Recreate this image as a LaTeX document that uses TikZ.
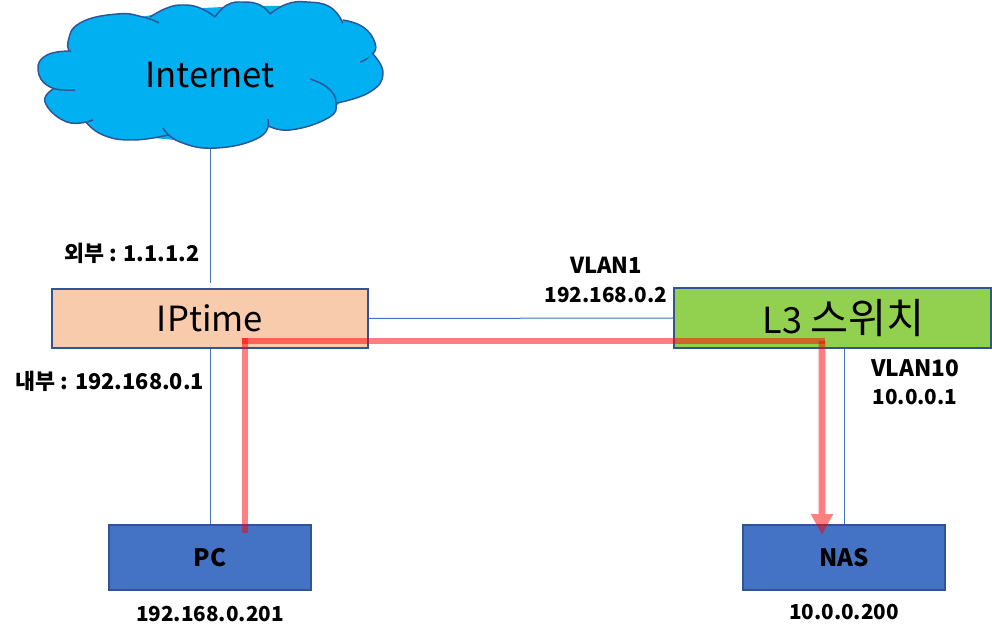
\documentclass[tikz,border=0pt]{standalone}
\usepackage{fontspec}
\setmainfont{Noto Sans CJK KR}
\usetikzlibrary{arrows.meta}
\definecolor{edge}{HTML}{2F5597}
\definecolor{wire}{HTML}{4472C4}
\definecolor{sky}{HTML}{00B0F0}
\definecolor{peach}{HTML}{F8CBAD}
\definecolor{leaf}{HTML}{92D050}
\newcommand{\fs}[1]{\fontsize{#1}{21.4}\selectfont}
\tikzset{%
	box/.style={draw=edge, line width=1.5pt, rectangle, inner sep=0mm, text=black},
	router/.style={box, minimum width=237pt, minimum height=44.5pt, fill=peach, font=\fs{26}},
	switch/.style={box, minimum width=237.5pt, minimum height=45pt, fill=leaf, font=\fs{27}},
	host/.style={box, minimum width=151.5pt, minimum height=48.5pt, fill=wire, font=\fs{18}\bfseries},
	addr/.style={align=center, inner sep=0mm, font=\fs{15.5}\bfseries},
	link/.style={draw=wire, line width=.75pt},
	lobe/.style={fill=sky, draw=edge, line width=1.1pt},
	route/.style={draw=red, draw opacity=.5, line width=5pt},
	cloud/.style={inner sep=0mm, minimum width=258pt, minimum height=111pt, font=\fs{26}}
}
\newcommand{\cloudlobe}[1]{\path [lobe] plot [smooth, tension=.8] coordinates {#1};}

\begin{document}
\begin{tikzpicture}[x=.75pt, y=-.75pt]
	\useasboundingbox (0,0) rectangle (992,641);

	%cloud
	\fill [sky] (48,62) -- (70,50) -- (100,25) -- (183,9) -- (243,6) -- (307,6) -- (345,22) -- (362,30) -- (372,58) -- (372,80)
		-- (345,98) -- (330,112) -- (267,128) -- (217,144) -- (133,136) -- (90,122) -- (55,95) -- (50,85) -- cycle;
	\cloudlobe{(71,53) (68,42) (80,23) (117,14) (143,17) (159,23)}
	\cloudlobe{(150,17) (167,8) (183,5) (200,8) (215,17)}
	\cloudlobe{(215,17) (227,5) (243,2) (260,5) (270,14)}
	\cloudlobe{(270,14) (287,4) (307,2) (330,7) (343,23)}
	\cloudlobe{(343,20) (363,27) (375,43) (372,55) (360,62)}
	\cloudlobe{(372,53) (383,73) (370,92) (337,103)}
	\cloudlobe{(310,79) (328,88) (336,103) (328,118) (290,130) (267,125)}
	\cloudlobe{(268,119) (260,137) (217,148) (180,142) (163,128)}
	\cloudlobe{(168,135) (133,140) (103,135) (85,121)}
	\cloudlobe{(93,120) (67,122) (45,102) (55,88)}
	\cloudlobe{(75,90) (50,87) (38,70) (47,55) (71,51)}
	\node [cloud] (inet) at (210,75) {Internet};

	\node [router] (iptime) at (210,318.5) {IPtime};
	\node [switch] (l3) at (832.5,318) {\hspace*{16.5pt}L3 {\fs{31}스위치}};
	\node [host] (pc) at (210,557.5) {PC};
	\node [host] (nas) at (844,557.5) {NAS};

	\node [addr, font=\fs{16.3}\bfseries] (wan) at (132,253) {외부 : 1.1.1.2};
	\node [addr, font=\fs{16.3}\bfseries] (lan) at (110,381) {내부 : 192.168.0.1};
	\node [addr] (vlan1) at (606,280) {{\fs{16.5}\bfseries VLAN1}\\192.168.0.2};
	\node [addr] (vlan10) at (915,382) {{\fs{17}\bfseries VLAN10}\\10.0.0.1};
	\node [addr] (pcip) at (210,614) {192.168.0.201};
	\node [addr] (nasip) at (844,612) {10.0.0.200};

	\draw [link, shorten >=3.75pt] (inet.south) to (iptime.north);
	\draw [link] (iptime.south) to (pc.north);
	\draw [link] (iptime.east) to (l3.west);
	\draw [link] (l3.south-|nas.north) to (nas.north);

	%path of the traffic
	\coordinate (from) at (245,535);
	\coordinate (bendl) at (245,341);
	\coordinate (bendr) at (822,341);
	\coordinate (to) at (822,535);
	\draw [route, line cap=rect, shorten <=3.75pt] (from) to (bendl);
	\draw [route, line cap=rect] (bendl) to (bendr);
	\begin{scope}[opacity=.5, transparency group]
		\draw [draw=red, fill=red, line width=5pt, -{Triangle[width=15.75pt, length=15.75pt]}] (bendr) to (to);
	\end{scope}
\end{tikzpicture}
\end{document}
